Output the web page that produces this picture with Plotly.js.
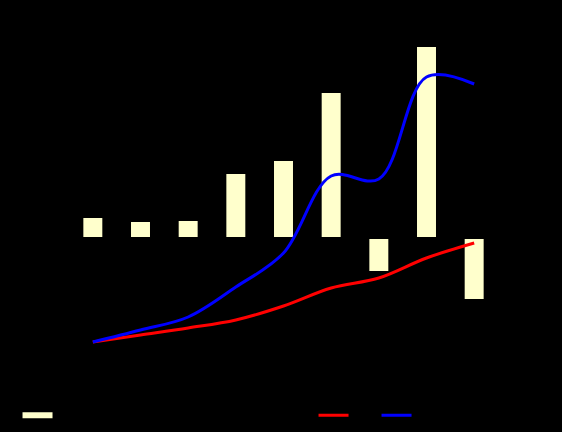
<!DOCTYPE html>
<html>
<head>
<meta charset="utf-8">
<script src="https://cdn.plot.ly/plotly-3.0.1.min.js"></script>
<style>html,body{margin:0;padding:0;background:#000;}#chart{width:562px;height:432px;}</style>
</head>
<body>
<div id="chart"></div>
<script>
var categories = ["P1", "P2", "P3", "P4", "P5", "P6", "P7", "P8", "P9"];
var barValues = [2.1, 1.7, 1.8, 6.5, 7.8, 14.6, -3.4, 19.2, -6.2];
var redValues = [0, 0.7, 1.4, 2.2, 3.6, 5.4, 6.4, 8.4, 9.9];
var blueValues = [0, 1.2, 2.5, 5.5, 8.9, 16.6, 16.3, 26.5, 25.8];

var traces = [
  {
    type: "bar", name: "Change", x: categories, y: barValues,
    width: 0.44, legendgroup: "bars", showlegend: false,
    marker: {color: "#FFFFCC", line: {color: "#000000", width: 2}}
  },
  {
    type: "scatter", mode: "lines", name: "Change", x: [null], y: [null],
    legendgroup: "bars", showlegend: true, hoverinfo: "skip",
    line: {color: "#FFFFCC", width: 6}, legend: "legend"
  },
  {
    type: "scatter", mode: "lines", name: "Plan", x: categories, y: redValues,
    yaxis: "y2", line: {color: "#FF0000", width: 3, shape: "spline"},
    legend: "legend2"
  },
  {
    type: "scatter", mode: "lines", name: "Actual", x: categories, y: blueValues,
    yaxis: "y2", line: {color: "#0000FF", width: 3, shape: "spline"},
    legend: "legend2"
  }
];

var layout = {
  width: 562, height: 432,
  paper_bgcolor: "#000000", plot_bgcolor: "#000000",
  margin: {l: 69, r: 64, t: 20, b: 52, autoexpand: false},
  font: {family: "DejaVu Sans", color: "#000000", size: 12},
  showlegend: true,
  xaxis: {type: "category", range: [-0.5, 8.5], showgrid: false, zeroline: false, showline: false, tickfont: {color: "#000000"}, automargin: false},
  yaxis: {range: [-14.2, 21.8], showgrid: false, zeroline: false, showline: false, tickfont: {color: "#000000"}, automargin: false},
  yaxis2: {range: [-3.8, 32.2], overlaying: "y", side: "right", showgrid: false, zeroline: false, showline: false, tickfont: {color: "#000000"}, automargin: false},
  legend: {orientation: "h", x: -0.12, xanchor: "left", yref: "container", y: 0.039, yanchor: "middle", bgcolor: "rgba(0,0,0,0)", font: {color: "#000000"}},
  legend2: {orientation: "h", x: 0.57, xanchor: "left", yref: "container", y: 0.039, yanchor: "middle", entrywidth: 18, entrywidthmode: "pixels", bgcolor: "rgba(0,0,0,0)", font: {color: "#000000"}}
};

Plotly.newPlot("chart", traces, layout, {displayModeBar: false, staticPlot: true});
</script>
</body>
</html>
